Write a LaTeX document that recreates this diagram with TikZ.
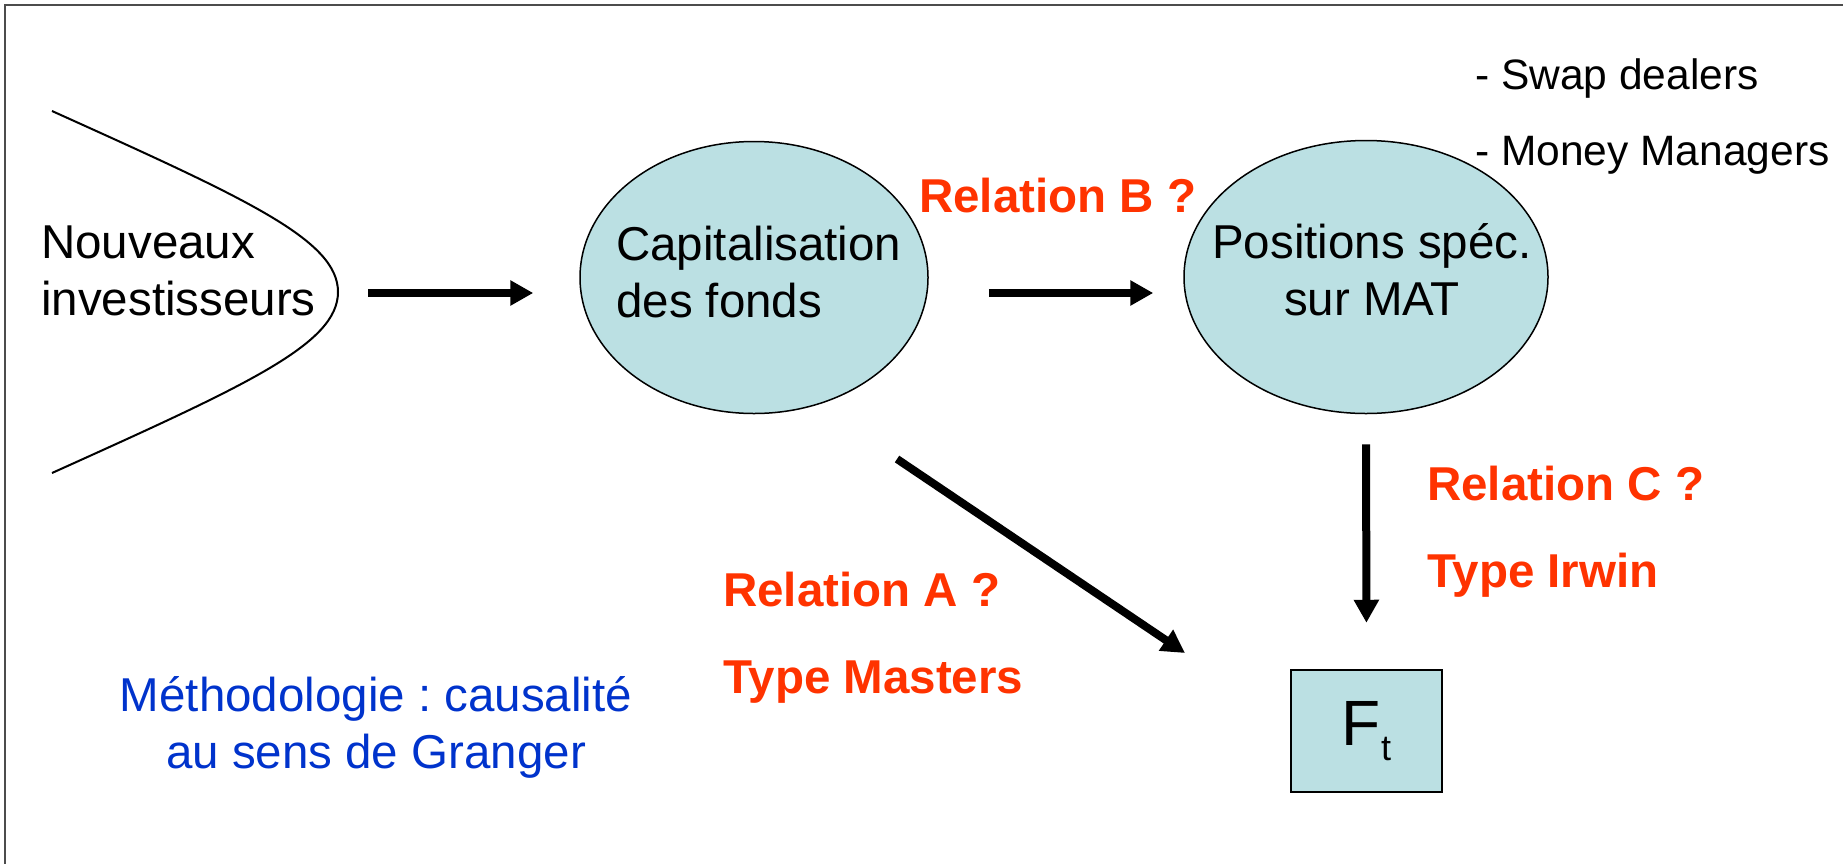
\documentclass[tikz,border=0pt]{standalone}
\usepackage{fontspec}
\setmainfont{Liberation Sans}
\usetikzlibrary{arrows.meta,shapes.geometric}
\definecolor{fillblue}{RGB}{187,224,227}
\definecolor{relred}{RGB}{255,51,0}
\definecolor{methblue}{RGB}{0,51,204}
\frenchspacing
\begin{document}
\begin{tikzpicture}[x=1pt,y=-1pt,
  frameline/.style={line width=2pt, black!70},
  txt/.style={inner sep=0pt, font=\fontsize{47.5}{57}\selectfont},
  reltxt/.style={inner sep=0pt, align=left, text=relred, font=\bfseries\fontsize{47.5}{87}\selectfont},
  listtxt/.style={inner sep=0pt, align=left, font=\fontsize{42.5}{76}\selectfont},
  bubble/.style={ellipse, draw, line width=1.5pt, fill=fillblue, inner sep=0pt},
  fbox/.style={rectangle, draw, line width=2.5pt, fill=fillblue, inner sep=0pt,
    minimum width=151pt, minimum height=122pt, font=\fontsize{64}{64}\selectfont},
  arr/.style={line width=8pt, -{Triangle[length=23pt,width=24pt]}}]
\fill[white] (0,0) rectangle (1843,863);
\useasboundingbox (0,0) rectangle (1843,863);
% frame (cut by the page at right and bottom)
\draw[frameline] (5,870) -- (5,5) -- (1850,5);

% left open curve
\coordinate (cTop) at (52,111);
\coordinate (cApex) at (338,292);
\coordinate (cBot) at (52,473);
\draw[line width=2pt] (cTop) .. controls (247,199) and (338,240) .. (cApex)
  .. controls (338,344) and (247,385) .. (cBot);
% multi-line nodes: base anchor = baseline of the last line
\node[txt, align=left, anchor=base west] (nouv) at (41,315) {Nouveaux\\investisseurs};

% ellipses
\node[bubble, minimum width=348pt, minimum height=272pt] (capE) at (754,277.5) {};
\node[txt, align=left, anchor=base west] (capT) at (616,317) {Capitalisation\\des fonds};
\node[bubble, minimum width=364pt, minimum height=273pt] (posE) at (1366,277) {};
\node[txt, align=center, anchor=base] (posT) at (1372,315) {Positions spéc.\\sur MAT};

% F_t box
\node[fbox] (ft) at (1366.5,731) {F\raisebox{-15pt}{\fontsize{36}{36}\selectfont t}};

% labels
\node[reltxt, anchor=base west] (relB) at (919,212) {Relation B ?};
\node[reltxt, anchor=base west] (relC) at (1427,587) {Relation C ?\\Type Irwin};
\node[reltxt, anchor=base west] (relA) at (723,693) {Relation A ?\\Type Masters};
\node[listtxt, anchor=base west] (list) at (1475,165) {- Swap dealers\\- Money Managers};
\node[txt, align=center, anchor=base, text=methblue] (meth) at (376,768)
  {Méthodologie : causalité\\au sens de Granger};

% connectors
\coordinate (a1s) at (368,293);
\draw[arr, shorten >=46pt] (a1s) -- (a1s -| capE.west);
\draw[arr, shorten <=60pt, shorten >=30pt] (capE.east |- a1s) -- (posE.west |- a1s);
\draw[arr, shorten <=30pt, shorten >=46pt] (posE.south) -- (ft.north);
\coordinate (dA) at (897,459);
\coordinate (dB) at (1185,653);
\draw[arr] (dA) -- (dB);
\end{tikzpicture}
\end{document}
